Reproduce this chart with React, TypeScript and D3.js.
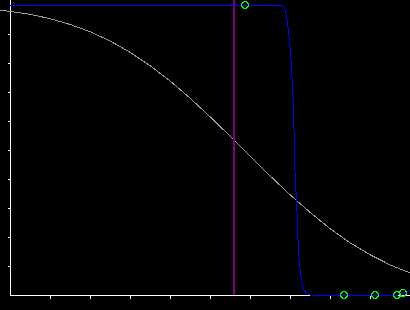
import React from "react";
import * as d3 from "d3";

const W = 410;
const H = 310;

// Grey broad sigmoid (x in data units, y probability)
const greyX = [-0.25, 0, 0.5, 1, 1.5, 2, 2.5, 3, 3.5, 4, 4.5, 5, 5.5, 6, 6.5, 7, 7.5, 8, 8.5, 9, 9.5, 10];
const greyY = [0.982, 0.978, 0.968, 0.953, 0.933, 0.908, 0.876, 0.837, 0.791, 0.738, 0.679, 0.615, 0.548, 0.479, 0.411, 0.346, 0.285, 0.229, 0.18, 0.139, 0.104, 0.076];

// Blue steep sigmoid
const blueX = [0, 6.625, 6.8, 6.85, 6.875, 6.9, 6.925, 6.95, 6.975, 7.0, 7.025, 7.05, 7.075, 7.1, 7.125, 7.15, 7.175, 7.2, 7.225, 7.25, 7.275, 7.3, 7.325, 7.35, 7.4, 7.5, 9.7, 9.825, 10];
const blueY = [1, 1, 0.998, 0.993, 0.983, 0.969, 0.952, 0.924, 0.893, 0.859, 0.81, 0.748, 0.683, 0.569, 0.424, 0.355, 0.286, 0.19, 0.128, 0.09, 0.062, 0.041, 0.028, 0.017, 0.007, 0, 0, 0.004, 0.017];

// Observed points
const ptX = [5.875, 8.35, 9.125, 9.675, 9.825];
const ptY = [1, 0, 0, 0, 0.007];

// Vertical marker
const markerX = 5.6;

const xTicks = [1, 2, 3, 4, 5, 6, 7, 8, 9];
const yTicks = [0.1, 0.2, 0.3, 0.4, 0.5, 0.6, 0.7, 0.8, 0.9];

export default function App() {
  const x = d3.scaleLinear().domain([0, 10]).range([10, 410]);
  const y = d3.scaleLinear().domain([0, 1]).range([295, 5]);

  const line = d3
    .line<[number, number]>()
    .x((d) => x(d[0]))
    .y((d) => y(d[1]));

  const grey = line(greyX.map((v, i) => [v, greyY[i]]) as [number, number][]) || "";
  const blue = line(blueX.map((v, i) => [v, blueY[i]]) as [number, number][]) || "";

  const x0 = x(0) + 0.5;
  const yb = y(0) + 0.5;

  return (
    <svg
      width={W}
      height={H}
      style={{ position: "fixed", left: 0, top: 0, background: "#000", display: "block" }}
      shapeRendering="crispEdges"
    >
      <rect x={0} y={0} width={W} height={H} fill="#000" />
      {/* axes */}
      <g stroke="#fff" strokeWidth={1}>
        <line x1={x0} x2={x0} y1={0} y2={yb} />
        <line x1={x0} x2={x(10)} y1={yb} y2={yb} />
        {xTicks.map((t) => (
          <line key={"xt" + t} x1={Math.round(x(t)) + 0.5} x2={Math.round(x(t)) + 0.5} y1={yb} y2={yb + 3} />
        ))}
        {yTicks.map((t) => (
          <line key={"yt" + t} x1={x0 - 3} x2={x0} y1={Math.round(y(t)) + 0.5} y2={Math.round(y(t)) + 0.5} />
        ))}
      </g>
      <path d={grey} fill="none" stroke="#999" strokeWidth={1} />
      <line
        x1={x(markerX)}
        x2={x(markerX)}
        y1={0}
        y2={y(0)}
        stroke="#800080"
        strokeWidth={1.6}
      />
      <path d={blue} fill="none" stroke="#0000ff" strokeWidth={1} />
      {ptX.map((v, i) => (
        <circle key={"p" + i} cx={x(v)} cy={y(ptY[i])} r={3.3} fill="none" stroke="#00ff00" strokeWidth={1} />
      ))}
    </svg>
  );
}
